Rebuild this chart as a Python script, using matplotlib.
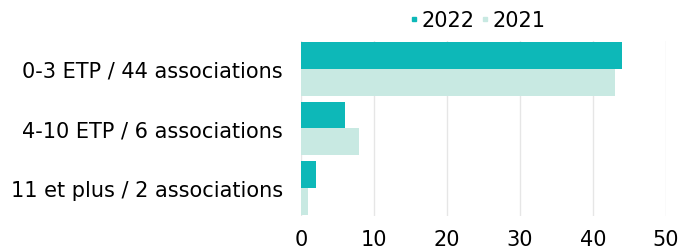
import numpy as np
import matplotlib.pyplot as plt
from matplotlib.lines import Line2D

categories = ['0-3 ETP / 44 associations', '4-10 ETP / 6 associations', '11 et plus / 2 associations']
values_2022 = [44, 6, 2]
values_2021 = [43, 8, 1]
xticks = [0, 10, 20, 30, 40, 50]
c2022 = '#0db8b8'
c2021 = '#c8e9e2'

plt.rcParams['font.family'] = ['DejaVu Sans']

fig = plt.figure(figsize=(6.82, 2.51), dpi=100)
ax = fig.add_axes([0.4413, 0.135, 0.5352, 0.699])

y = np.arange(len(categories))
h = 0.45
ax.barh(y - h / 2, values_2022, height=h, color=c2022, zorder=3)
ax.barh(y + h / 2, values_2021, height=h, color=c2021, zorder=3)

ax.set_xlim(0, 50)
ax.set_ylim(2.47, -0.47)
ax.set_xticks(xticks)
ax.set_yticks(y)
ax.set_yticklabels(categories)
ax.tick_params(axis='y', length=0, pad=13, labelsize=15)
ax.tick_params(axis='x', length=0, pad=9, labelsize=15)
ax.grid(axis='x', color='#e6e6e6', linewidth=1, zorder=0)
for s in ax.spines.values():
    s.set_visible(False)

handles = [Line2D([], [], marker='s', linestyle='', markersize=2.5, color=c2022),
           Line2D([], [], marker='s', linestyle='', markersize=2.5, color=c2021)]
ax.legend(handles, ['2022', '2021'], loc='lower center', bbox_to_anchor=(0.485, 1.0),
          ncol=2, frameon=False, fontsize=15, handlelength=0.3, handletextpad=0.2,
          columnspacing=0.35, borderaxespad=0.1)

fig.savefig('out.png', dpi=100)
